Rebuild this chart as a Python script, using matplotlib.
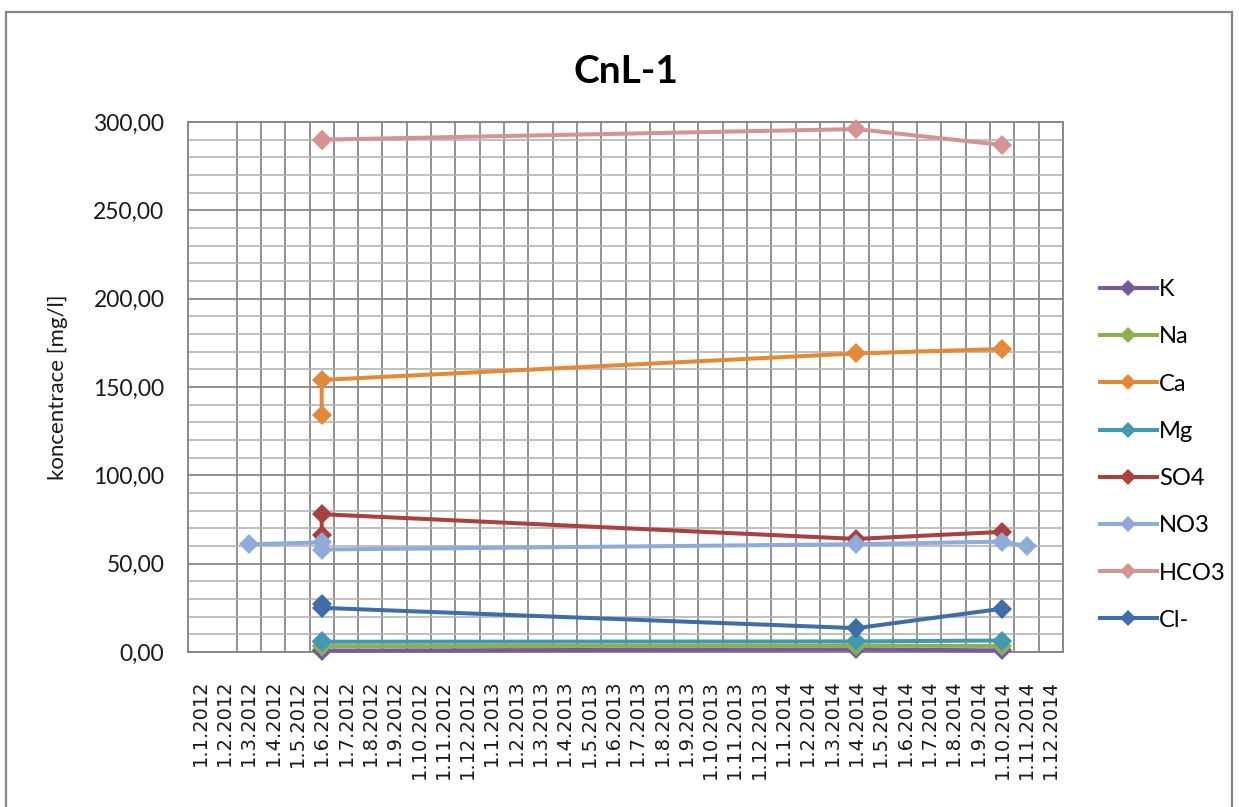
import numpy as np
import matplotlib
matplotlib.use("Agg")
import matplotlib.pyplot as plt
from matplotlib.ticker import FuncFormatter, MultipleLocator, FixedLocator
from matplotlib.patches import Rectangle

# ---------------- data ----------------
title = "CnL-1"
ylabel = "koncentrace [mg/l]"

# month categories shown on the date axis
month_labels = [f"1.{m}.{y}" for y in (2012, 2013, 2014) for m in range(1, 13)]

# sampling dates (several samples on the same day are possible)
sample_dates = ["1.3.2012", "1.6.2012", "1.6.2012", "1.4.2014", "1.10.2014", "1.11.2014"]

nan = np.nan
K = [nan, 1.0, 0.8, 1.5, 0.9, nan]
Na = [nan, 3.5, 3.3, 3.6, 3.4, nan]
Ca = [nan, 134.0, 154.0, 169.0, 171.5, nan]
Mg = [nan, 6.0, 5.8, 6.0, 6.5, nan]
SO4 = [nan, 66.0, 78.0, 64.0, 68.0, nan]
NO3 = [61.0, 62.0, 58.0, 61.0, 62.5, 60.0]
HCO3 = [nan, 290.0, 290.0, 296.0, 287.0, nan]
Cl = [nan, 27.0, 25.0, 13.5, 24.5, nan]

series_names = ["K", "Na", "Ca", "Mg", "SO4", "NO3", "HCO3", "Cl-"]
series_values = [K, Na, Ca, Mg, SO4, NO3, HCO3, Cl]
series_colors = ["#7659A0", "#8CB04E", "#E4893A", "#3F9AB2",
                 "#A8413F", "#8FABD8", "#D59393", "#3F6DA8"]

y_ticks = [0, 50, 100, 150, 200, 250, 300]

# ---------------- helpers ----------------
def month_pos(d):
    day, m, y = (int(t) for t in d.split("."))
    return (y - 2012) * 12 + (m - 1) + 0.5

x_pos = [month_pos(d) for d in sample_dates]

# ---------------- figure ----------------
W, H = 1239, 807
fig = plt.figure(figsize=(W / 100, H / 100), dpi=100)
fig.patch.set_facecolor("white")

L, R, T, B = 188, 1063, 122, 652
ax = fig.add_axes([L / W, 1 - B / H, (R - L) / W, (B - T) / H])

# outer chart border (bottom edge lies outside the picture)
fig.add_artist(Rectangle((6 / W, 1 - 815 / H), (1232 - 6) / W, (815 - 12) / H,
                         transform=fig.transFigure, fill=False,
                         edgecolor="#868686", linewidth=1.6))

# lines
for name, vals, col in zip(series_names, series_values, series_colors):
    ax.plot(x_pos, vals, color=col, linewidth=2.9, marker="D",
            markersize=10, markeredgewidth=0, label=name, zorder=3,
            solid_joinstyle="miter", clip_on=False)

# axes limits
ax.set_xlim(0, len(month_labels))
ax.set_ylim(0, 300)

# y axis
ax.set_yticks(y_ticks)
ax.yaxis.set_minor_locator(MultipleLocator(10))
ax.yaxis.set_major_formatter(FuncFormatter(lambda v, p: f"{v:.2f}".replace(".", ",")))
ax.tick_params(axis="y", which="both", length=0, pad=17,
               labelsize=16.5, labelcolor="#1a1a1a")
for lab in ax.get_yticklabels():
    lab.set_fontfamily("Lato")

# x axis
ax.set_xticks([i + 0.5 for i in range(len(month_labels))])
ax.set_xticklabels(month_labels, rotation=90, fontfamily="DejaVu Sans",
                   fontsize=14, va="top", ha="center")
ax.xaxis.set_minor_locator(FixedLocator(list(range(2, len(month_labels)))))
ax.tick_params(axis="x", which="both", length=0, pad=20, labelcolor="#1a1a1a")

# grid
ax.grid(False)
ax.grid(True, axis="y", which="minor", color="#b4b4b4", linewidth=1.2, zorder=0)
ax.grid(True, axis="y", which="major", color="#888888", linewidth=1.3, zorder=0)
ax.grid(True, axis="x", which="minor", color="#888888", linewidth=1.3, zorder=0)
ax.set_axisbelow(True)
for s in ax.spines.values():
    s.set_color("#888888")
    s.set_linewidth(1.4)

# labels
ax.set_ylabel(ylabel, fontfamily="Lato", fontsize=16, color="#1a1a1a", va="center")
ax.yaxis.set_label_coords((58 - L) / (R - L), 0.5)
ax.set_title(title, fontfamily="Lato", fontweight="bold", fontsize=28, pad=28)

# legend
leg = fig.legend(loc="center left", bbox_to_anchor=(1100 / W, 1 - 455 / H),
                 frameon=False, prop={"family": "Lato", "size": 17},
                 handlelength=2.4, handletextpad=0.1, labelspacing=1.11,
                 borderpad=0, borderaxespad=0, markerscale=0.85)

fig.savefig("out.png", dpi=100, facecolor="white")
